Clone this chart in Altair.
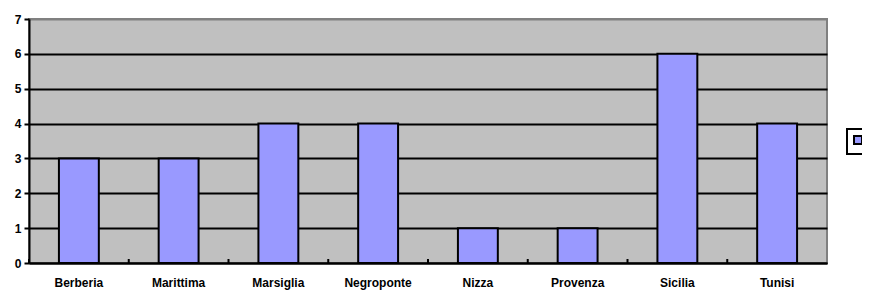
import altair as alt
import pandas as pd

categories = ["Berberia", "Marittima", "Marsiglia", "Negroponte", "Nizza", "Provenza", "Sicilia", "Tunisi"]
values = [3, 3, 4, 4, 1, 1, 6, 4]
series = [" "] * len(categories)
y_ticks = [0, 1, 2, 3, 4, 5, 6, 7]

df = pd.DataFrame({"cat": categories, "val": values, "series": series})

W, H = 798, 244
FONT = "Liberation Sans"

xscale = alt.Scale(paddingInner=0, paddingOuter=0)

bars = alt.Chart(df).mark_bar(
    width=alt.RelativeBandSize(0.4), stroke="black", strokeWidth=2
).encode(
    x=alt.X("cat:N", scale=xscale, sort=categories, title=None,
            axis=alt.Axis(labelAngle=0, ticks=False, labelPadding=14, labelFontSize=12,
                          labelFontWeight="bold", labelFont=FONT, labelColor="black",
                          domainColor="black", domainWidth=2)),
    y=alt.Y("val:Q", scale=alt.Scale(domain=[0, 7]), title=None,
            axis=alt.Axis(values=y_ticks, grid=True,
                          gridColor=alt.condition("datum.value == 7", alt.value("#808080"), alt.value("black")),
                          gridWidth=2,
                          tickColor="black", tickWidth=2, tickSize=5, labelPadding=3,
                          labelFontSize=12, labelFontWeight="bold", labelFont=FONT,
                          labelColor="black", domainColor="black", domainWidth=2)),
    color=alt.Color("series:N", scale=alt.Scale(range=["#9999FF"]),
                    legend=alt.Legend(title=None, orient="none", legendX=818, legendY=110,
                                      symbolType="square", symbolSize=64,
                                      symbolStrokeColor="black", symbolStrokeWidth=2,
                                      symbolFillColor="#9999FF",
                                      strokeColor="black", fillColor="white",
                                      padding=6, labelFontSize=1)),
)

ticks_in = alt.Chart(df).mark_rule(color="black", strokeWidth=2).encode(
    x=alt.X("cat:N", sort=categories, bandPosition=0, scale=xscale),
    y=alt.value(H - 4),
    y2=alt.value(H),
)

chart = alt.layer(bars, ticks_in).properties(
    width=W, height=H,
    autosize=alt.AutoSizeParams(type="none"),
    padding={"left": 21, "top": 11, "right": 35, "bottom": 27},
    background="white",
).configure_view(
    fill="#C0C0C0", stroke="#808080", strokeWidth=2
).configure_legend(strokeWidth=2)

chart.save("out.html", embed_options={"renderer": "svg", "actions": False})
